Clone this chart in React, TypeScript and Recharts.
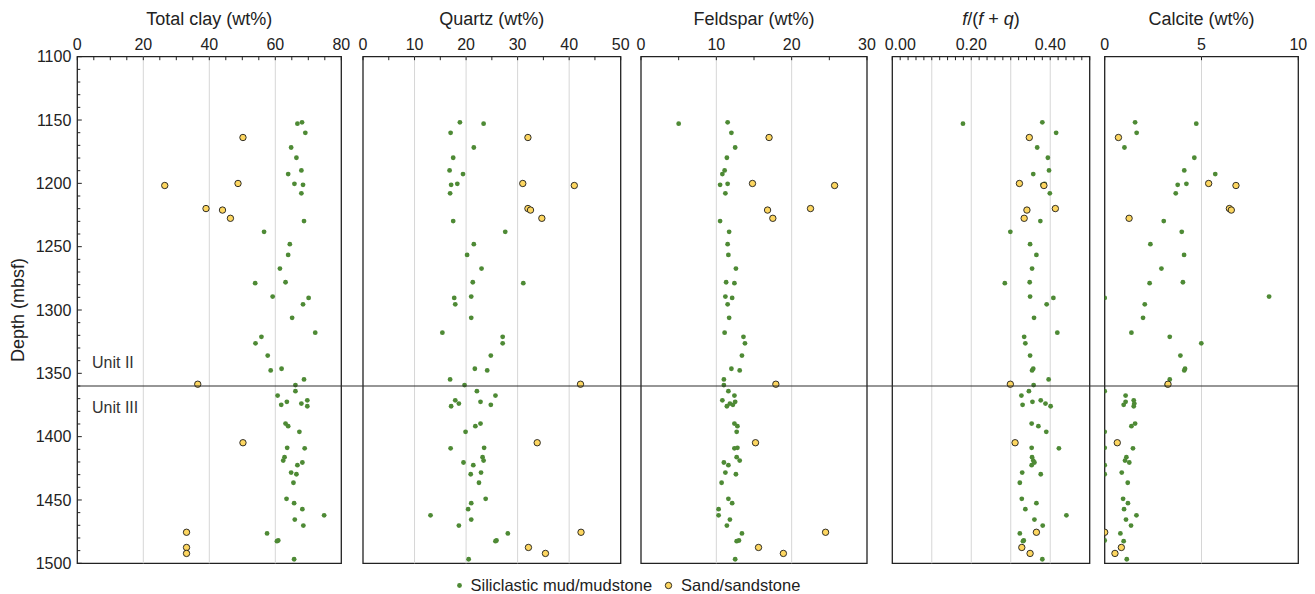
import React from "react";
import {
  Legend,
  ReferenceArea,
  ReferenceLine,
  Scatter,
  ScatterChart,
  XAxis,
  YAxis,
} from "recharts";

// mud/mudstone samples, depth (mbsf) shared by every panel
const mudDepth = [
  1151.8, 1152.9, 1160.1, 1171.7, 1179.8, 1189.8, 1192.7, 1200.4, 1201.2, 1207.9,
  1229.8, 1238.3, 1248.0, 1256.5, 1267.3, 1278.1, 1278.8, 1289.4, 1290.5, 1295.5,
  1306.2, 1317.9, 1321.2, 1326.3, 1336.0, 1346.4, 1347.7, 1354.8, 1359.3, 1364.1,
  1367.6, 1371.3, 1372.5, 1373.9, 1374.9, 1376.0, 1389.7, 1391.7, 1396.2, 1408.8,
  1409.2, 1416.2, 1418.9, 1420.4, 1422.5, 1428.4, 1429.7, 1436.4, 1449.1, 1452.5,
  1457.3, 1462.1, 1465.5, 1470.2, 1476.4, 1482.0, 1482.5, 1496.8,
];
const clayMud = [
  68.1, 66.7, 69.1, 64.8, 66.4, 67.9, 63.9, 65.8, 68.4, 67.9,
  68.7, 56.6, 64.4, 63.9, 61.4, 63.1, 53.9, 59.2, 70.1, 68.4,
  65.1, 72.1, 55.8, 54.0, 57.7, 61.9, 58.6, 68.7, 66.1, 66.1,
  60.7, 69.7, 63.5, 67.9, 61.8, 69.7, 63.1, 63.9, 67.3, 63.6,
  68.9, 62.8, 62.4, 68.2, 66.7, 64.8, 66.4, 65.5, 63.4, 65.7,
  68.2, 74.8, 65.9, 68.5, 57.5, 60.9, 60.5, 65.7,
];
const quartzMud = [
  18.8, 23.4, 17.0, 21.5, 17.5, 16.8, 19.4, 18.3, 17.1, 16.9,
  17.5, 27.6, 21.5, 20.2, 23.0, 21.3, 31.1, 21.0, 17.7, 17.9,
  21.0, 15.4, 27.1, 27.1, 24.8, 21.7, 24.1, 16.9, 19.7, 22.1,
  25.7, 17.9, 22.8, 18.6, 24.8, 17.1, 22.8, 21.8, 19.9, 23.5,
  17.0, 23.2, 23.4, 19.5, 21.4, 22.9, 20.9, 22.5, 23.8, 21.0,
  20.4, 13.1, 21.0, 18.6, 28.1, 25.9, 25.7, 20.5,
];
const feldsparMud = [
  11.5, 5.0, 12.0, 12.5, 11.4, 11.1, 10.8, 11.5, 10.5, 11.2,
  10.5, 11.7, 11.5, 11.6, 12.6, 11.3, 12.4, 11.2, 12.1, 11.5,
  11.7, 11.1, 13.6, 13.8, 13.4, 12.0, 13.1, 11.0, 11.0, 11.6,
  12.4, 10.8, 12.5, 11.8, 12.2, 11.4, 12.4, 12.8, 12.7, 12.8,
  12.4, 12.7, 13.1, 11.0, 11.6, 11.2, 12.6, 10.7, 11.6, 12.1,
  10.3, 10.3, 11.8, 11.4, 13.4, 13.0, 12.7, 12.5,
];
const ratioMud = [
  0.38, 0.179, 0.415, 0.367, 0.394, 0.397, 0.357, 0.386, 0.38, 0.399,
  0.375, 0.299, 0.349, 0.365, 0.354, 0.348, 0.285, 0.349, 0.408, 0.391,
  0.359, 0.418, 0.334, 0.337, 0.349, 0.357, 0.354, 0.396, 0.358, 0.346,
  0.327, 0.376, 0.355, 0.388, 0.33, 0.401, 0.353, 0.37, 0.39, 0.353,
  0.422, 0.354, 0.357, 0.36, 0.353, 0.329, 0.376, 0.323, 0.328, 0.365,
  0.337, 0.441, 0.36, 0.381, 0.323, 0.333, 0.331, 0.38,
];
const calciteMud = [
  1.57, 4.73, 1.65, 1.02, 4.63, 4.11, 5.71, 4.22, 3.77, 3.67,
  3.05, 3.98, 2.36, 4.1, 2.93, 4.04, 2.32, 8.49, 0, 2.07,
  1.98, 1.38, 3.36, 4.99, 3.91, 4.15, 4.11, 3.36, 3.2, 0,
  1.08, 1.5, 1.08, 1.53, 0.98, 1.5, 1.57, 1.38, 0, 0,
  1.46, 1.12, 1.05, 1.27, 0, 0.88, 0, 1.19, 0.95, 1.2,
  1.0, 1.64, 1.1, 1.36, 0.81, 0, 0.98, 1.14,
];

// sand/sandstone samples
const sandDepth = [1163.8, 1200.1, 1201.7, 1219.9, 1221.1, 1227.6, 1358.6, 1404.8, 1475.5, 1487.5, 1492.2];
const claySand = [50.2, 48.7, 26.5, 39.0, 44.0, 46.4, 36.5, 50.2, 33.1, 33.1, 33.1];
const quartzSand = [32.0, 31.0, 41.0, 32.0, 32.5, 34.7, 42.2, 33.8, 42.3, 32.1, 35.4];
const feldsparSand = [17.0, 14.8, 25.7, 22.5, 16.8, 17.5, 17.9, 15.2, 24.5, 15.6, 18.9];
const ratioSand = [0.347, 0.322, 0.384, 0.413, 0.341, 0.334, 0.299, 0.311, 0.365, 0.328, 0.349];
const calciteSand = [0.71, 5.37, 6.78, 6.44, 6.54, 1.26, 3.27, 0.65, 0, 0.86, 0.53];

const depthLabels = [1100, 1150, 1200, 1250, 1300, 1350, 1400, 1450, 1500];
const DEPTH_MIN = 1100;
const DEPTH_MAX = 1500;
const UNIT_BOUNDARY = 1360;
const unitNames = ["Unit II", "Unit III"];
const seriesNames = ["Siliclastic mud/mudstone", "Sand/sandstone"];

const W = 1315;
const H = 594;
const PLOT_TOP = 56.7;
const PLOT_BOTTOM = 563.3;
const X_AXIS_H = 44;
const MUD = "#4e8a35";
const SAND = "#fdd660";
const INK = "#222";
const FONT = '"Liberation Sans", Arial, Helvetica, sans-serif';
const TICK_FONT = 16;
const TITLE_FONT = 18;

function range(start: number, stop: number, step: number) {
  const out: number[] = [];
  const n = Math.round((stop - start) / step);
  for (let i = 0; i <= n; i++) out.push(+(start + i * step).toFixed(4));
  return out;
}

const toPoints = (depths: number[], values: number[]) =>
  depths.map((d, i) => ({ d, v: values[i] }));

const depthTicks = range(DEPTH_MIN, DEPTH_MAX, 10);

const ratioTitle = (
  <>
    <tspan fontStyle="italic">f</tspan>
    <tspan>/(</tspan>
    <tspan fontStyle="italic">f</tspan>
    <tspan> + </tspan>
    <tspan fontStyle="italic">q</tspan>
    <tspan>)</tspan>
  </>
);

const panels = [
  {
    title: "Total clay (wt%)", domain: [0, 80], ticks: range(0, 80, 5), labels: [0, 20, 40, 60, 80],
    grid: [20, 40, 60], left: 77.3, right: 341.3, fmt: (v: number) => String(v), nudge: 0,
    mud: clayMud, sand: claySand,
  },
  {
    title: "Quartz (wt%)", domain: [0, 50], ticks: range(0, 50, 5), labels: [0, 10, 20, 30, 40, 50],
    grid: [10, 20, 30, 40], left: 363, right: 620.7, fmt: (v: number) => String(v), nudge: 0,
    mud: quartzMud, sand: quartzSand,
  },
  {
    title: "Feldspar (wt%)", domain: [0, 30], ticks: range(0, 30, 5), labels: [0, 10, 20, 30],
    grid: [10, 20], left: 641, right: 867, fmt: (v: number) => String(v), nudge: 0,
    mud: feldsparMud, sand: feldsparSand,
  },
  {
    title: ratioTitle, domain: [0, 0.5], ticks: range(0, 0.5, 0.02), labels: [0, 0.2, 0.4],
    grid: [0.1, 0.2, 0.3, 0.4], left: 892.3, right: 1089.7, fmt: (v: number) => v.toFixed(2), nudge: 8,
    mud: ratioMud, sand: ratioSand,
  },
  {
    title: "Calcite (wt%)", domain: [0, 10], ticks: [0, 5, 10], labels: [0, 5, 10],
    grid: [5], left: 1104.7, right: 1298.3, fmt: (v: number) => String(v), nudge: 0,
    mud: calciteMud, sand: calciteSand,
  },
];

// pixel row of a depth inside the shared plot band
const depthToY = (d: number) =>
  PLOT_TOP + ((d - DEPTH_MIN) / (DEPTH_MAX - DEPTH_MIN)) * (PLOT_BOTTOM - PLOT_TOP);

const MudDot = (props: any) => <circle cx={props.cx} cy={props.cy} r={2.4} fill={MUD} />;
const SandDot = (props: any) => (
  <circle cx={props.cx} cy={props.cy} r={3.2} fill={SAND} stroke="#1c1c1c" strokeWidth={0.9} />
);

function makeXTick(labels: number[], fmt: (v: number) => string, nudge: number) {
  return (props: any) => {
    const { x, y, payload } = props;
    const v = payload.value;
    const labelled = labels.some((l) => Math.abs(l - v) < 1e-9);
    return (
      <g>
        <line x1={x} x2={x} y1={y} y2={y + 3.5} stroke={INK} />
        {labelled && (
          <text
            x={x + (v === 0 ? nudge : 0)}
            y={y - 7}
            textAnchor="middle"
            fontSize={TICK_FONT}
            fill={INK}
            fontFamily={FONT}
          >
            {fmt(v)}
          </text>
        )}
      </g>
    );
  };
}

function makeYTick(showLabels: boolean) {
  return (props: any) => {
    const { x, y, payload } = props;
    const major = depthLabels.includes(payload.value);
    return (
      <g>
        <line x1={x} x2={x + (major ? 4.5 : 3)} y1={y} y2={y} stroke={INK} />
        {showLabels && major && (
          <text x={x - 6} y={y + 5.6} textAnchor="end" fontSize={TICK_FONT} fill={INK} fontFamily={FONT}>
            {payload.value}
          </text>
        )}
      </g>
    );
  };
}

const layer: React.CSSProperties = { position: "absolute", left: 0, top: 0, pointerEvents: "none" };

function PanelChart({ p, first }: { p: (typeof panels)[number]; first: boolean }) {
  const yWidth = first ? 70 : 0;
  const title = () => (
    <text
      x={(p.left + p.right) / 2}
      y={25}
      textAnchor="middle"
      fontSize={TITLE_FONT}
      fill={INK}
      fontFamily={FONT}
    >
      {p.title}
    </text>
  );
  // depth title plus the unit names either side of the boundary
  const depthTitle = () => {
    const cx = 17.8;
    const cy = (PLOT_TOP + PLOT_BOTTOM) / 2;
    const yb = depthToY(UNIT_BOUNDARY);
    const ux = p.left + 14.7;
    return (
      <g fontFamily={FONT}>
        <text
          x={cx}
          y={cy}
          transform={`rotate(-90 ${cx} ${cy})`}
          textAnchor="middle"
          dominantBaseline="central"
          fontSize={TITLE_FONT}
          fill={INK}
        >
          Depth (mbsf)
        </text>
        <text x={ux} y={yb - 18.4} fontSize={16} fill="#333">
          {unitNames[0]}
        </text>
        <text x={ux} y={yb + 26.6} fontSize={16} fill="#333">
          {unitNames[1]}
        </text>
      </g>
    );
  };

  return (
    <div style={layer}>
      <ScatterChart
        width={W}
        height={H}
        margin={{
          top: PLOT_TOP - X_AXIS_H,
          bottom: H - PLOT_BOTTOM,
          left: p.left - yWidth,
          right: W - p.right,
        }}
      >
        <XAxis
          type="number"
          dataKey="v"
          orientation="top"
          height={X_AXIS_H}
          domain={[p.domain[0], p.domain[1]]}
          ticks={p.ticks}
          interval={0}
          allowDataOverflow
          axisLine={false}
          tickLine={false}
          tickSize={0}
          tickMargin={0}
          tick={makeXTick(p.labels, p.fmt, p.nudge)}
          label={title}
        />
        <YAxis
          type="number"
          dataKey="d"
          domain={[DEPTH_MIN, DEPTH_MAX]}
          reversed
          width={yWidth}
          ticks={depthTicks}
          interval={0}
          allowDataOverflow
          axisLine={false}
          tickLine={false}
          tickSize={0}
          tickMargin={0}
          tick={makeYTick(first)}
          label={first ? depthTitle : undefined}
        />
        {p.grid.map((g) => (
          <ReferenceLine key={g} x={g} stroke="#d6d6d6" strokeWidth={1} />
        ))}
        <ReferenceArea
          x1={p.domain[0]}
          x2={p.domain[1]}
          y1={DEPTH_MIN}
          y2={DEPTH_MAX}
          fill="none"
          fillOpacity={0}
          stroke={INK}
          strokeWidth={1.3}
        />
        <Scatter
          name={seriesNames[0]}
          data={toPoints(mudDepth, p.mud)}
          shape={MudDot}
          isAnimationActive={false}
        />
        <Scatter
          name={seriesNames[1]}
          data={toPoints(sandDepth, p.sand)}
          shape={SandDot}
          isAnimationActive={false}
        />
      </ScatterChart>
    </div>
  );
}

const renderLegend = () => (
  <div
    style={{
      display: "flex",
      alignItems: "center",
      fontFamily: FONT,
      fontSize: 16.5,
      color: INK,
      lineHeight: "18px",
      whiteSpace: "nowrap",
    }}
  >
    {seriesNames.map((name, i) => (
      <span key={name} style={{ display: "flex", alignItems: "center", marginRight: 11.5 }}>
        <svg width={9} height={9} style={{ marginRight: i === 0 ? 6.5 : 8.5 }}>
          {i === 0 ? (
            <circle cx={4.5} cy={4.5} r={2.4} fill={MUD} />
          ) : (
            <circle cx={4.5} cy={4.5} r={3.2} fill={SAND} stroke="#1c1c1c" strokeWidth={0.9} />
          )}
        </svg>
        {name}
      </span>
    ))}
  </div>
);

// full-width layer: unit boundary across all panels, and the legend
function Overlay() {
  return (
    <div style={layer}>
      <ScatterChart
        width={W}
        height={H}
        margin={{ top: PLOT_TOP, bottom: H - PLOT_BOTTOM, left: panels[0].left, right: W - panels[4].right }}
      >
        <XAxis type="number" dataKey="v" domain={[0, 1]} allowDataOverflow hide />
        <YAxis
          type="number"
          dataKey="d"
          domain={[DEPTH_MIN, DEPTH_MAX]}
          reversed
          allowDataOverflow
          hide
          width={0}
        />
        <ReferenceLine y={UNIT_BOUNDARY} stroke="#2e2e2e" strokeWidth={1.2} ifOverflow="visible" />
        <Scatter name={seriesNames[0]} data={[]} isAnimationActive={false} />
        <Scatter name={seriesNames[1]} data={[]} isAnimationActive={false} />
        <Legend
          verticalAlign="middle"
          align="center"
          layout="horizontal"
          content={renderLegend}
          wrapperStyle={{ left: 455, top: 576, width: 420, height: 18 }}
        />
      </ScatterChart>
    </div>
  );
}

export default function App() {
  return (
    <div
      style={{
        position: "absolute",
        left: 0,
        top: 0,
        width: W,
        height: H,
        background: "#fff",
        overflow: "hidden",
      }}
    >
      {panels.map((p, i) => (
        <PanelChart key={i} p={p} first={i === 0} />
      ))}
      <Overlay />
    </div>
  );
}
